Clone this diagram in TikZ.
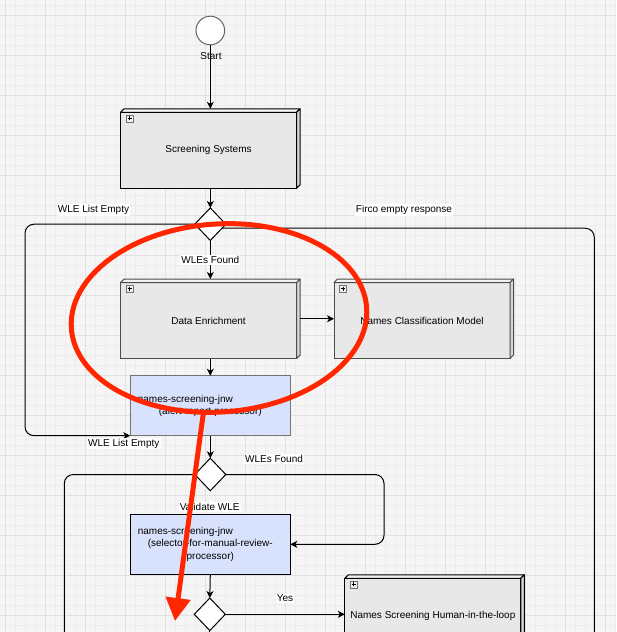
\documentclass[tikz,border=0pt]{standalone}
\usepackage{fontspec}
\setmainfont{Liberation Sans}
\usetikzlibrary{arrows.meta,shapes.geometric,calc}
\definecolor{bgc}{HTML}{F5F5F5}
\definecolor{minorc}{HTML}{ECECEC}
\definecolor{majorc}{HTML}{E1E1E1}
\definecolor{boxfront}{HTML}{E8E8E8}
\definecolor{boxtop}{HTML}{F2F2F2}
\definecolor{boxside}{HTML}{D6D6D6}
\definecolor{jnwblue}{HTML}{D9E2FC}
\definecolor{annot}{HTML}{FF2600}
\newcommand{\depthfaces}[2]{%
  \draw[draw=#2, line width=1pt, fill=boxtop, line join=round]
    (#1.north west) -- ([shift={(3.5pt,3.5pt)}]#1.north west) -- ([shift={(3.5pt,3.5pt)}]#1.north east) -- (#1.north east) -- cycle;
  \draw[draw=#2, line width=1pt, fill=boxside, line join=round]
    (#1.north east) -- ([shift={(3.5pt,3.5pt)}]#1.north east) -- ([shift={(3.5pt,3.5pt)}]#1.south east) -- (#1.south east) -- cycle;
  \draw[draw=black!55, fill=white!88!gray, line width=0.6pt]
    ([shift={(5.5pt,-2.5pt)}]#1.north west) rectangle ([shift={(12.5pt,-9.5pt)}]#1.north west);
  \draw[black, line width=0.8pt]
    ([shift={(7pt,-6pt)}]#1.north west) -- ([shift={(11pt,-6pt)}]#1.north west)
    ([shift={(9pt,-4pt)}]#1.north west) -- ([shift={(9pt,-8pt)}]#1.north west);
}
\begin{document}
\begin{tikzpicture}[x=1pt,y=-1pt,
  txt/.style={font=\fontsize{10pt}{12.3pt}\selectfont},
  minorline/.style={draw=minorc, line width=0.8pt},
  majorline/.style={draw=majorc, line width=1pt},
  conn/.style={draw=black, line width=1pt},
  arr/.style={conn, -{Stealth[length=7pt,width=7pt,inset=2pt]}},
  front3d/.style={rectangle, draw=#1, fill=boxfront, line width=1pt, minimum width=176pt, minimum height=76pt, inner sep=0pt, outer sep=0pt, txt},
  dia/.style={diamond, draw=black, fill=white, line width=1pt, minimum width=31pt, minimum height=32.5pt, inner sep=0pt, outer sep=0pt},
  jnw/.style={rectangle, draw=#1, fill=jnwblue, line width=1pt, minimum width=160pt, minimum height=60pt, inner sep=0pt, outer sep=0pt, txt, align=center},
  lbl/.style={fill=white, inner sep=1.2pt, txt},
  redstroke/.style={draw=annot, line width=5pt}
]
\useasboundingbox (0,0) rectangle (616,632);
\clip (0,0) rectangle (616,632);
% background grid
\fill[bgc] (0,0) rectangle (616,632);
\foreach \x in {5,15,...,615} \draw[minorline] (\x,0) -- (\x,632);
\foreach \y in {5,15,...,625} \draw[minorline] (0,\y) -- (616,\y);
\foreach \x in {5,45,...,605} \draw[majorline] (\x,0) -- (\x,632);
\foreach \y in {15,55,...,615} \draw[majorline] (0,\y) -- (616,\y);

% nodes
\node[circle, draw=black!60, fill=white, line width=1pt, minimum size=28.6pt, inner sep=0pt] (start) at (210.3,30.5) {};
\node[txt] (startlbl) at (211,56) {Start};

\node[front3d=black] (ss) at (208.55,150.3) {Screening Systems};
\depthfaces{ss}{black}

\node[dia] (d1) at (210.3,224.2) {};

\node[front3d=black!70] (de) at (208.55,320.5) {Data Enrichment};
\depthfaces{de}{black!70}

\node[front3d=black!70] (nc) at (422,320.5) {Names Classification Model};
\depthfaces{nc}{black!70}

\node[jnw=black!55] (bj1) at (210.3,405.7) {\makebox[145pt][l]{names-screening-jnw}\\(alert-report-processor)};

\node[dia] (d2) at (210.3,474.5) {};

\node[jnw=black] (bj2) at (210.3,544.3) {\makebox[145pt][l]{names-screening-jnw}\\(selector-for-manual-review-\\processor)};

\node[dia] (d3) at (209.8,614.3) {};

\node[front3d=black] (hitl) at (432.85,616.3) {Names Screening Human-in-the-loop};
\depthfaces{hitl}{black}

% waypoints
\coordinate (l1b) at (25,435.7);
\coordinate (r1b) at (594.3,660);
\coordinate (r2) at (384,544.3);
\coordinate (l2) at (64.3,660);
\coordinate (d3end) at (209.8,660);

% connectors
\draw[arr] (start) -- ([shift={(1.75pt,3.5pt)}]ss.north);
\draw[arr] ([xshift=1.75pt]ss.south) -- (d1.north);
\draw[arr] (d1.south) -- ([shift={(1.75pt,3.5pt)}]de.north);
\draw[arr] ([shift={(3.5pt,1.75pt)}]de.east) -- ([yshift=1.75pt]nc.west);
\draw[arr] ([xshift=1.75pt]de.south) -- (bj1.north);
\draw[arr, rounded corners=9pt] (d1.west) -| (l1b) -- (bj1.south west);
\draw[conn, rounded corners=9pt] (d1.-19) -| (r1b);
\draw[arr] (bj1.south) -- (d2.north);
\draw[arr, rounded corners=9pt] (d2.east) -| (r2) -- (bj2.east);
\draw[conn, rounded corners=9pt] (d2.west) -| (l2);
\draw[arr] (bj2.south) -- (d3.north);
\draw[arr] (d3.east) -- (d3.east -| hitl.west);
\draw[conn] (d3.south) -- (d3end);

% labels
\node[lbl] (lblempty1) at (93.5,210) {WLE List Empty};
\node[lbl] (lblfirco) at (404,210) {Firco empty response};
\node[lbl] (lblfound1) at (210.3,259.8) {WLEs Found};
\node[lbl] (lblempty2) at (123.8,443.5) {WLE List Empty};
\node[lbl] (lblfound2) at (274,458.7) {WLEs Found};
\node[lbl] (lblvalidate) at (209.7,506.7) {Validate WLE};
\node[lbl] (lblyes) at (285,598.3) {Yes};

% red annotation
\coordinate (redc) at (219,318);
\draw[redstroke, rotate around={4:(redc)}] (redc) ellipse [x radius=148, y radius=94];
\coordinate (redstart) at (203.5,412);
\coordinate (redtip) at (175,621);
\draw[redstroke, -{Triangle[length=23pt,width=24pt]}] (redstart) -- (redtip);
\end{tikzpicture}
\end{document}
